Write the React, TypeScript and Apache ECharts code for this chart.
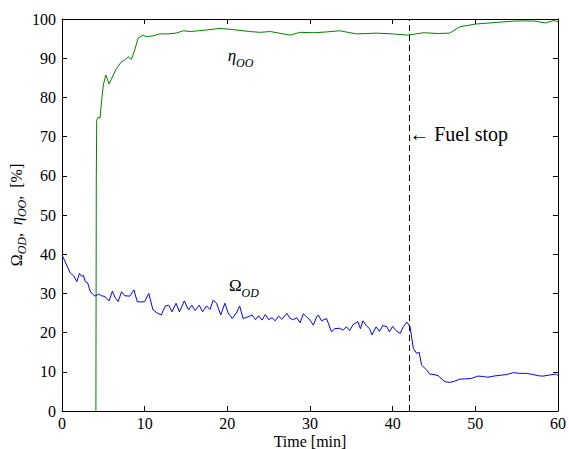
import React, { useEffect, useRef } from "react";
import * as echarts from "echarts";

const blueTime = [0, 0.3, 0.6, 1.0, 1.4, 1.8, 2.1, 2.4, 2.6, 2.8, 3.1, 3.4, 3.7, 4.0, 4.4, 4.8, 5.2, 5.7, 6.1, 6.4, 6.8, 7.2, 7.6, 8.2, 8.7, 9.1, 9.5, 10.0, 10.5, 11.0, 11.5, 12.0, 12.5, 12.9, 13.3, 13.8, 14.2, 14.8, 15.3, 15.7, 16.1, 16.6, 17.0, 17.5, 17.9, 18.3, 18.7, 19.2, 19.7, 20.1, 20.6, 21.1, 21.5, 21.9, 22.5, 23.0, 23.4, 23.8, 24.2, 24.6, 25.0, 25.4, 25.8, 26.2, 26.6, 27.2, 27.6, 28.0, 28.4, 28.8, 29.2, 29.6, 30.0, 30.4, 30.8, 31.0, 31.4, 32.0, 32.6, 33.0, 33.6, 34.0, 34.4, 34.8, 35.2, 35.8, 36.1, 36.4, 36.8, 37.2, 37.5, 38.0, 38.4, 38.8, 39.3, 39.6, 40.0, 40.4, 40.9, 41.3, 41.7, 42.1, 42.5, 42.9, 43.2, 43.5, 44.1, 44.5, 45.0, 45.5, 46.3, 46.9, 47.5, 48.1, 48.8, 49.5, 50.3, 51.0, 51.5, 52.2, 53.0, 53.8, 54.6, 55.3, 56.2, 57.0, 57.6, 58.2, 59.0, 59.8, 60.0];
const blueValues = [39.8, 38.5, 37.0, 35.2, 34.5, 33.0, 35.1, 34.3, 34.6, 33.0, 32.7, 30.6, 29.8, 29.3, 29.8, 29.4, 29.2, 28.1, 30.6, 29.0, 27.9, 30.4, 29.4, 29.3, 30.9, 27.9, 27.8, 27.9, 30.0, 25.8, 25.0, 24.5, 26.8, 27.0, 25.3, 27.5, 25.3, 28.1, 25.8, 27.0, 25.6, 27.0, 25.3, 26.8, 25.9, 28.3, 27.5, 24.5, 27.5, 25.0, 23.6, 25.0, 26.8, 23.6, 24.0, 24.5, 23.3, 24.3, 23.2, 24.6, 23.3, 23.8, 23.0, 24.2, 23.4, 24.9, 23.6, 23.3, 23.8, 22.5, 24.8, 24.0, 23.2, 21.9, 24.0, 24.5, 23.0, 23.6, 20.2, 21.0, 21.1, 20.6, 21.5, 20.5, 22.0, 22.8, 21.0, 23.0, 21.8, 21.0, 19.4, 21.5, 20.3, 21.8, 21.5, 20.2, 21.6, 20.5, 19.8, 21.5, 22.7, 21.5, 16.0, 14.7, 15.0, 11.7, 10.5, 9.4, 9.3, 9.0, 7.5, 7.3, 7.6, 8.1, 8.2, 8.3, 8.9, 8.8, 8.6, 8.9, 9.1, 9.3, 9.8, 9.6, 9.6, 9.3, 9.0, 8.9, 9.2, 9.4, 9.0];

const greenTime = [4.1, 4.15, 4.2, 4.4, 4.6, 4.8, 5.0, 5.3, 5.7, 6.2, 6.6, 7.2, 7.6, 8.0, 8.4, 8.8, 9.2, 9.8, 10.2, 11.0, 11.8, 12.8, 13.8, 14.7, 15.5, 16.5, 17.5, 19.1, 20.7, 22.7, 24.0, 25.2, 26.5, 27.6, 28.8, 30.5, 32.0, 33.6, 35.6, 37.0, 38.0, 40.0, 41.7, 42.5, 43.7, 45.5, 46.9, 48.1, 50.0, 53.0, 55.0, 57.0, 58.5, 59.5, 60.0];
const greenValues = [0, 60, 74.2, 75.0, 74.7, 79.3, 83.2, 85.7, 83.4, 85.7, 87.4, 89.1, 89.5, 90.4, 89.7, 92.1, 95.1, 95.9, 95.5, 95.7, 96.2, 96.2, 96.4, 97.0, 96.8, 97.0, 97.2, 97.6, 97.3, 96.8, 96.6, 96.8, 96.3, 95.9, 96.6, 96.5, 96.7, 97.0, 96.2, 96.3, 96.4, 96.2, 95.9, 96.1, 96.5, 96.3, 96.4, 98.0, 98.7, 99.2, 99.5, 99.5, 99.0, 99.6, 99.3];

const fuelStopTime = 42;
const fuelStopLabelY = 70.7;
const etaLabelPos = [21.6, 90.0];
const omegaLabelPos = [22.0, 31.4];
const xTicks = { min: 0, max: 60, interval: 10 };
const yTicks = { min: 0, max: 100, interval: 10 };

const FONT = "Liberation Serif";

const rich = {
  r: { fontFamily: FONT, fontSize: 17, color: "#000", lineHeight: 22, verticalAlign: "top" },
  m: { fontFamily: FONT, fontSize: 17, fontStyle: "italic", color: "#000", lineHeight: 22, verticalAlign: "top" },
  s: { fontFamily: FONT, fontSize: 12, fontStyle: "italic", color: "#000", lineHeight: 12, verticalAlign: "bottom" },
};
const richY = {
  r: { fontFamily: FONT, fontSize: 16, color: "#000", lineHeight: 20, verticalAlign: "top" },
  m: { fontFamily: FONT, fontSize: 16, fontStyle: "italic", color: "#000", lineHeight: 20, verticalAlign: "top" },
  s: { fontFamily: FONT, fontSize: 12, fontStyle: "italic", color: "#000", lineHeight: 12, verticalAlign: "bottom" },
};

export default function App() {
  const ref = useRef<HTMLDivElement>(null);
  useEffect(() => {
    if (!ref.current) return;
    const chart = echarts.init(ref.current, null, { renderer: "svg" });
    const axisCommon = {
      type: "value",
      axisLine: { show: true, onZero: false, lineStyle: { color: "#000", width: 1 } },
      axisTick: { show: true, inside: true, length: 5, lineStyle: { color: "#000", width: 1 } },
      splitLine: { show: false },
    };
    chart.setOption({
      animation: false,
      backgroundColor: "#fff",
      grid: { left: 62, right: 11, top: 19, bottom: 38, containLabel: false, outerBoundsMode: "none" },
      xAxis: [
        {
          ...axisCommon,
          ...xTicks,
          position: "bottom",
          axisLabel: { fontFamily: FONT, fontSize: 16, color: "#000", margin: 4 },
          name: "Time [min]",
          nameLocation: "middle",
          nameGap: 22,
          nameMoveOverlap: false,
          nameTextStyle: { fontFamily: FONT, fontSize: 16, color: "#000", lineHeight: 16 },
        },
        { ...axisCommon, ...xTicks, position: "top", axisLabel: { show: false } },
      ],
      yAxis: [
        {
          ...axisCommon,
          ...yTicks,
          position: "left",
          axisLabel: { fontFamily: FONT, fontSize: 16, color: "#000", margin: 6 },
          name: "{r|Ω}{s|OD}{r|,  }{m|η}{s|OO}{r|,  [%]}",
          nameLocation: "middle",
          nameGap: 34,
          nameMoveOverlap: false,
          nameRotate: 90,
          nameTextStyle: { rich: richY },
        },
        { ...axisCommon, ...yTicks, position: "right", axisLabel: { show: false } },
      ],
      series: [
        {
          type: "line",
          xAxisIndex: 0,
          yAxisIndex: 0,
          data: greenTime.map((t, i) => [t, greenValues[i]]),
          showSymbol: false,
          symbol: "none",
          lineStyle: { color: "#008000", width: 1 },
          itemStyle: { color: "#008000" },
          markPoint: {
            symbol: "circle",
            symbolSize: 0,
            data: [
              {
                coord: etaLabelPos,
                label: { show: true, position: "inside", formatter: "{m|η}{s|OO}", rich },
              },
            ],
          },
          z: 3,
        },
        {
          type: "line",
          xAxisIndex: 0,
          yAxisIndex: 0,
          data: blueTime.map((t, i) => [t, blueValues[i]]),
          showSymbol: false,
          symbol: "none",
          lineStyle: { color: "#0000ff", width: 1 },
          itemStyle: { color: "#0000ff" },
          markPoint: {
            symbol: "circle",
            symbolSize: 0,
            data: [
              {
                coord: omegaLabelPos,
                label: { show: true, position: "inside", formatter: "{r|Ω}{s|OD}", rich },
              },
              {
                coord: [fuelStopTime, fuelStopLabelY],
                label: {
                  show: true,
                  position: "right",
                  distance: 0,
                  formatter: "← Fuel stop",
                  fontFamily: FONT,
                  fontSize: 20,
                  color: "#000",
                },
              },
            ],
          },
          markLine: {
            silent: true,
            symbol: "none",
            label: { show: false },
            lineStyle: { color: "#000", type: [6, 4], width: 1 },
            data: [{ xAxis: fuelStopTime }],
          },
          z: 3,
        },
      ],
    });
    return () => chart.dispose();
  }, []);
  return (
    <div
      ref={ref}
      style={{ position: "fixed", left: 0, top: 0, width: 569, height: 449, background: "#fff" }}
    />
  );
}
